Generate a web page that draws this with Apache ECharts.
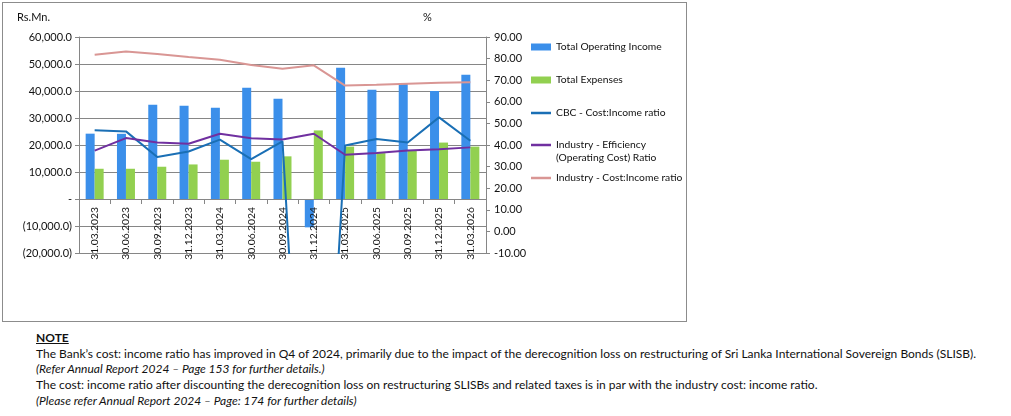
<!DOCTYPE html>
<html>
<head>
<meta charset="utf-8">
<title>Cost : Income ratio</title>
<script src="https://cdn.jsdelivr.net/npm/echarts@6/dist/echarts.min.js"></script>
<style>
    body { margin: 0; background: #fff; width: 1011px; height: 416px; overflow: hidden; font-family: Lato, sans-serif; }
    #box { position: absolute; left: 2px; top: 2px; width: 683px; height: 318px; border: 1px solid #8c8c8c; }
    #chart { width: 683px; height: 318px; }
    #note { position: absolute; left: 36px; top: 330px; font-size: 12px; line-height: 15.7px; color: #111; white-space: nowrap; }
    #note b { text-decoration: underline; }
</style>
</head>
<body>
<div id="box"><div id="chart"></div></div>
<div id="note">
    <b>NOTE</b><br>
    The Bank’s cost: income ratio has improved in Q4 of 2024, primarily due to the impact of the derecognition loss on restructuring of Sri Lanka International Sovereign Bonds (SLISB).<br>
    <i>(Refer Annual Report 2024 – Page 153 for further details.)</i><br>
    The cost: income ratio after discounting the derecognition loss on restructuring SLISBs and related taxes is in par with the industry cost: income ratio.<br>
    <i>(Please refer Annual Report 2024 – Page: 174 for further details)</i>
</div>
<script>
// 季度
var quarters = ['31.03.2023', '30.06.2023', '30.09.2023', '31.12.2023', '31.03.2024', '30.06.2024', '30.09.2024',
    '31.12.2024', '31.03.2025', '30.06.2025', '30.09.2025', '31.12.2025', '31.03.2026'];

// Rs.Mn.
var operatingIncome = [24200, 24150, 34900, 34550, 33800, 41200, 37100, -10500, 48600, 40500, 42950, 40000, 46000];
var totalExpenses = [11200, 11200, 11950, 12800, 14550, 13800, 15800, 25400, 19400, 17000, 18000, 20900, 19400];

// %
var cbcRatio = [46.8, 46.3, 34.4, 37.0, 42.5, 33.5, 41.7, -205, 39.8, 42.8, 41.2, 52.8, 42.0];
var industryEfficiency = [37.4, 43.2, 41.2, 40.6, 45.2, 43.1, 42.5, 45.2, 35.5, 36.3, 37.4, 38.0, 38.9];
var industryCostIncome = [81.8, 83.3, 82.1, 80.7, 79.5, 77.0, 75.3, 76.9, 67.5, 67.9, 68.4, 68.8, 69.0];

var leftTicks = { min: -20000, max: 60000, interval: 10000 };
var rightTicks = { min: -10, max: 90, interval: 10 };

var names = ['Total Operating Income', 'Total Expenses', 'CBC - Cost:Income ratio',
    'Industry - Efficiency (Operating Cost) Ratio', 'Industry - Cost:Income ratio'];

var FONT = 'Lato';
var GRAY = '#868686';

function moneyLabel(v) {
    if (v === 0) return '-';
    var s = Math.abs(v).toLocaleString('en-US', { minimumFractionDigits: 1, maximumFractionDigits: 1 });
    return v < 0 ? '(' + s + ')' : s;
}

/* 单项图例 */
function legendItem(name, top, isBar) {
    return {
        data: [{ name: name, icon: 'rect' }],
        left: 528,
        top: top,
        padding: 0,
        itemWidth: 20,
        itemHeight: isBar ? 7 : 2.5,
        itemGap: 0,
        selectedMode: false,
        formatter: function(n) {
            // 两行图例：第一行对齐图标
            return n.indexOf(' (Operating') > 0 ? ' \n' + n.replace(' (Operating', '\n(Operating') : n;
        },
        textStyle: {
            fontFamily: FONT,
            fontSize: 10.3,
            lineHeight: 13,
            color: '#111'
        }
    };
}

function lineSeries(name, data, color) {
    return {
        name: name,
        type: 'line',
        yAxisIndex: 1,
        symbol: 'none',
        lineStyle: { color: color, width: 2 },
        itemStyle: { color: color },
        clip: true,
        z: 3,
        data: data
    };
}

var chart = echarts.init(document.getElementById('chart'));
var option = {
    animation: false,
    textStyle: { fontFamily: FONT },
    grid: { left: 76, top: 34, width: 407, height: 216, outerBoundsMode: 'none', containLabel: false },
    graphic: [
        { type: 'text', left: 14, top: 9, style: { text: 'Rs.Mn.', font: '11px ' + FONT, fill: '#111' } },
        { type: 'text', left: 420, top: 9, style: { text: '%', font: '11px ' + FONT, fill: '#111' } }
    ],
    legend: [
        legendItem(names[0], 37.5, true),
        legendItem(names[1], 70.5, true),
        legendItem(names[2], 103.5),
        legendItem(names[3], 122.5),
        legendItem(names[4], 168.5)
    ],
    xAxis: {
        type: 'category',
        data: quarters,
        offset: -54,
        z: 2,
        axisLine: { onZero: false, lineStyle: { color: GRAY, width: 1 } },
        axisTick: { show: true, length: 5, lineStyle: { color: GRAY } },
        axisLabel: { rotate: 90, margin: 8, fontSize: 10.3, color: '#111', interval: 0 },
        splitLine: { show: false }
    },
    yAxis: [
        {
            type: 'value',
            min: leftTicks.min,
            max: leftTicks.max,
            interval: leftTicks.interval,
            axisLine: { show: true, lineStyle: { color: GRAY } },
            axisTick: { show: true, length: 4, lineStyle: { color: GRAY } },
            axisLabel: { margin: 7, fontSize: 11, color: '#111', formatter: moneyLabel },
            splitLine: { show: true, lineStyle: { color: GRAY, width: 1 } }
        },
        {
            type: 'value',
            position: 'right',
            min: rightTicks.min,
            max: rightTicks.max,
            interval: rightTicks.interval,
            axisLine: { show: true, lineStyle: { color: GRAY } },
            axisTick: { show: true, length: 4, lineStyle: { color: GRAY } },
            axisLabel: { margin: 8, fontSize: 11, color: '#111', formatter: function(v) { return v.toFixed(2); } },
            splitLine: { show: false }
        }
    ],
    series: [
        {
            name: names[0],
            type: 'bar',
            barWidth: 9,
            barGap: '0%',
            z: 1,
            itemStyle: { color: '#3b8fea' },
            data: operatingIncome
        },
        {
            name: names[1],
            type: 'bar',
            barWidth: 9,
            barGap: '0%',
            z: 1,
            itemStyle: { color: '#92d050' },
            data: totalExpenses
        },
        lineSeries(names[2], cbcRatio, '#1a6fb5'),
        lineSeries(names[3], industryEfficiency, '#7030a0'),
        lineSeries(names[4], industryCostIncome, '#d99694')
    ]
};
chart.setOption(option);
</script>
</body>
</html>
